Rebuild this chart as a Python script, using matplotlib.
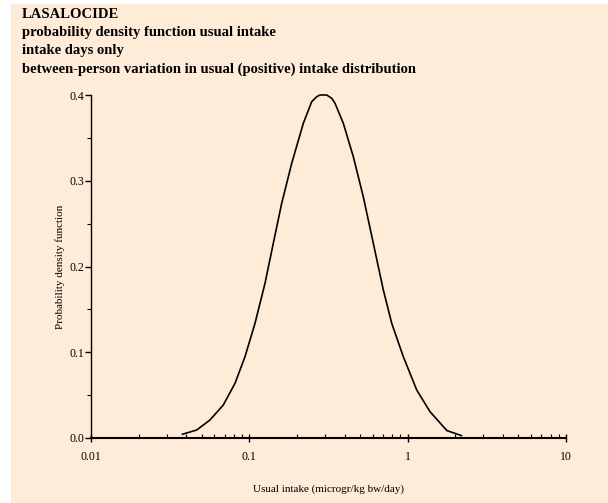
import matplotlib
matplotlib.use("Agg")
import matplotlib.pyplot as plt
from matplotlib.patches import Rectangle
from matplotlib.ticker import (LogLocator, MultipleLocator, FixedFormatter,
                               FixedLocator, FormatStrFormatter, NullFormatter)

# curve (usual intake, density)
intake = [0.0377, 0.0465, 0.0564, 0.0685, 0.0812, 0.0939, 0.1086, 0.1256,
          0.1417, 0.1601, 0.1852, 0.2193, 0.2477, 0.2664, 0.2794, 0.3081,
          0.3313, 0.3478, 0.3922, 0.4536, 0.5244, 0.6067, 0.7019, 0.7929,
          0.9387, 1.1405, 1.3838, 1.7668, 2.1939]
density = [0.0043, 0.0093, 0.0210, 0.0385, 0.0638, 0.0948, 0.1338, 0.1804,
           0.2271, 0.2737, 0.3203, 0.3670, 0.3922, 0.3980, 0.4000, 0.4000,
           0.3962, 0.3903, 0.3670, 0.3281, 0.2814, 0.2271, 0.1726, 0.1338,
           0.0948, 0.0560, 0.0307, 0.0087, 0.0027]

x_ticks = [0.01, 0.1, 1, 10]
x_tick_labels = ['0.01', '0.1', '1', '10']

title_lines = ["LASALOCIDE",
               "probability density function usual intake",
               "intake days only",
               "between-person variation in usual (positive) intake distribution"]

bg = '#FEEBD8'
plt.rcParams['font.family'] = 'Liberation Serif'

fig = plt.figure(figsize=(6.08, 5.03), dpi=100, facecolor='white')
fig.patches.append(Rectangle((11 / 608, 0), 1, 1 - 4 / 503, transform=fig.transFigure,
                             facecolor=bg, edgecolor='none', zorder=-1))

ax = fig.add_axes([91 / 608, 65 / 503, 475 / 608, 343 / 503])
ax.set_facecolor(bg)
ax.plot(intake, density, color='black', lw=1.2, clip_on=False,
        solid_joinstyle='round', solid_capstyle='round')

ax.set_xscale('log')
ax.set_xlim(0.01, 10)
ax.set_ylim(0, 0.4)
ax.xaxis.set_major_locator(FixedLocator(x_ticks))
ax.xaxis.set_major_formatter(FixedFormatter(x_tick_labels))
ax.xaxis.set_minor_locator(LogLocator(base=10, subs=range(2, 10)))
ax.xaxis.set_minor_formatter(NullFormatter())
ax.yaxis.set_major_locator(MultipleLocator(0.1))
ax.yaxis.set_major_formatter(FormatStrFormatter('%.1f'))
ax.yaxis.set_minor_locator(MultipleLocator(0.05))

for s in ['top', 'right']:
    ax.spines[s].set_visible(False)
ax.spines['left'].set_linewidth(1.0)
ax.spines['bottom'].set_linewidth(1.5)

ax.tick_params(axis='x', which='major', direction='inout', length=6, width=1, labelsize=8.5, pad=6)
ax.tick_params(axis='x', which='minor', direction='in', length=3, width=0.8)
ax.tick_params(axis='y', which='major', direction='out', length=4, width=1, labelsize=8.5, pad=1)
ax.tick_params(axis='y', which='minor', direction='out', length=3, width=0.8)

ax.set_xlabel("Usual intake (microgr/kg bw/day)", fontsize=8, labelpad=16)
ax.set_ylabel("Probability density function", fontsize=8, labelpad=3)

for i, line in enumerate(title_lines):
    fig.text(22 / 608, 1 - (17.5 + i * 18.4) / 503, line, fontsize=10.5, fontweight='bold',
             va='baseline', ha='left')

fig.savefig('out.png', dpi=100, facecolor=fig.get_facecolor())
